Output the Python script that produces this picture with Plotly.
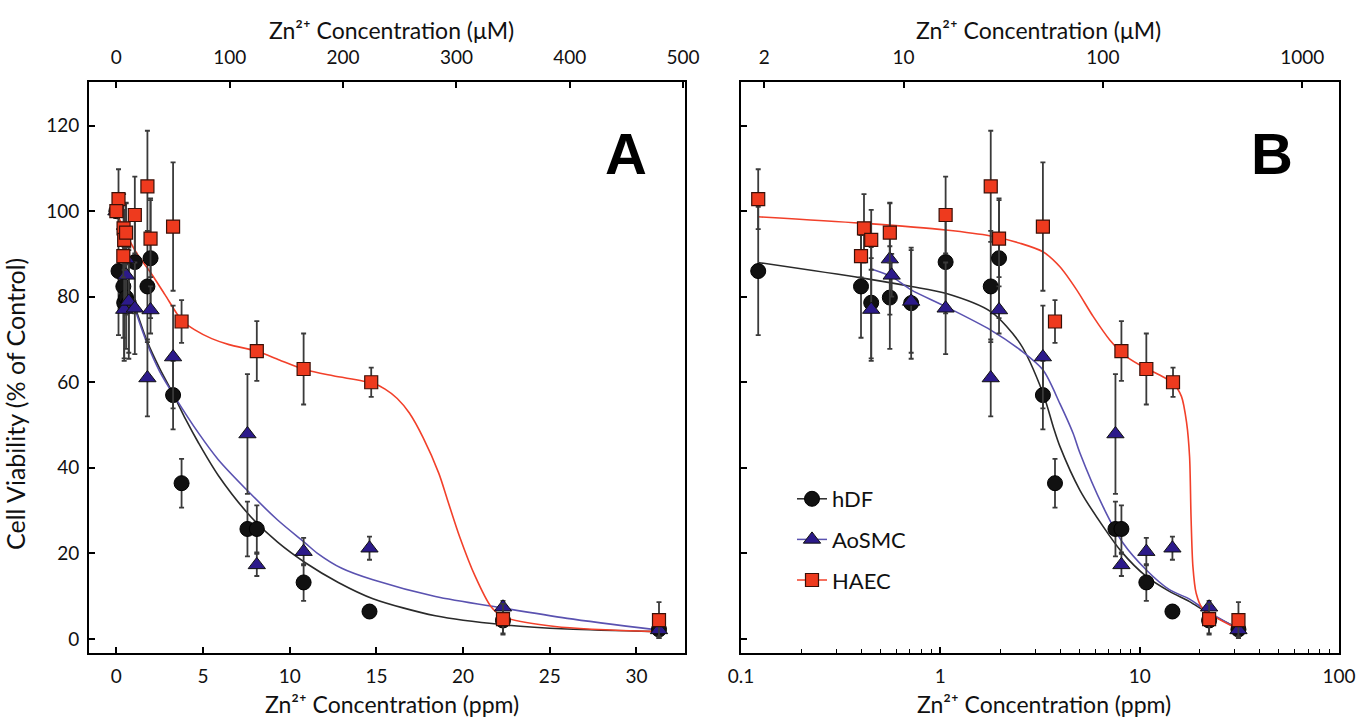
import math
import plotly.graph_objects as go

# ---------------- data ----------------
PPM_PER_UM = 0.06538  # 1 uM Zn2+ = 0.06538 ppm

conc_hdf = [0.122, 0.40, 0.45, 0.558, 0.714, 1.063, 1.79, 1.97, 3.27, 3.76, 7.56, 8.10, 10.8, 14.6, 22.3, 31.3]
via_hdf = [86.0, 82.4, 78.6, 79.8, 78.5, 88.1, 82.4, 89.0, 57.0, 36.4, 25.7, 25.7, 13.2, 6.4, 4.3, 2.2]
err_hdf = [15, 12, 13, 12, 13, 12, 13, 14, 8, 5.7, 6.4, 5.5, 4.3, 1.5, 3, 2]

conc_aosmc = [0.45, 0.558, 0.57, 0.714, 1.063, 1.79, 1.97, 3.27, 7.56, 8.10, 10.8, 14.6, 22.3, 31.3]
via_aosmc = [77.0, 88.8, 85.0, 78.9, 77.3, 61.0, 76.9, 65.9, 47.9, 17.3, 20.4, 21.2, 7.4, 2.1]
err_aosmc = [12, 13, 5, 12, 10.7, 9, 5.5, 12, 14, 2.6, 3.2, 2.7, 1.5, 1.5]

conc_haec = [0.122, 0.40, 0.414, 0.45, 0.558, 1.063, 1.79, 1.97, 3.27, 3.76, 8.10, 10.8, 14.7, 22.3, 31.3]
via_haec = [102.8, 89.5, 96.0, 93.3, 95.0, 99.1, 105.8, 93.6, 96.4, 74.2, 67.3, 63.1, 60.0, 4.6, 4.4]
err_haec = [7, 5, 8, 7, 7, 9, 13, 9, 15, 5, 7, 8.3, 3.4, 3.6, 4.2]

# untreated control (only visible on the linear panel A)
control_conc = [0.0]
control_hdf = [100.0]
control_aosmc = [100.0]
control_haec = [100.0]

# fitted curves, panel A (linear x)
fitA_hdf_x = [0.12, 0.5, 1.0, 1.78, 2.5, 3.26, 4.0, 4.74, 5.88, 7.7, 9.3, 10.9, 12.8, 14.8, 18.4, 22.3, 26.0, 31.2]
fitA_hdf_y = [88.0, 84.5, 78.5, 69.5, 63.2, 57.4, 51.3, 45.8, 38.2, 28.8, 22.6, 17.8, 13.2, 9.4, 5.4, 3.3, 2.3, 1.7]
fitA_aosmc_x = [0.45, 1.0, 1.78, 2.5, 3.37, 4.74, 5.88, 7.7, 9.3, 10.9, 11.6, 13.0, 14.8, 18.4, 22.3, 26.0, 31.2]
fitA_aosmc_y = [85.5, 78.0, 69.0, 62.5, 56.6, 48.1, 41.9, 34.1, 27.8, 22.4, 20.0, 16.5, 13.8, 9.9, 7.2, 4.8, 2.1]
fitA_haec_x = [0.12, 0.4, 0.78, 1.2, 2.0, 2.8, 3.77, 4.5, 5.5, 6.5, 8.16, 9.4, 10.9, 12.5, 14.77, 15.5, 16.2, 16.9,
               17.7, 18.6, 19.1, 19.8, 20.7, 21.6, 22.3, 25.3, 31.2]
fitA_haec_y = [98.5, 96.5, 93.0, 90.0, 85.5, 80.5, 74.5, 72.3, 70.2, 68.8, 67.2, 65.2, 62.9, 61.5, 59.8, 58.4, 56.2,
               52.8, 47.0, 38.7, 32.5, 23.9, 14.6, 7.6, 5.2, 2.9, 1.7]

# fitted curves, panel B (log x)
fitB_hdf_x = [0.122, 0.40, 0.714, 1.063, 1.79, 2.51, 3.27, 3.69, 3.98, 5.01, 6.55, 8.10, 10.8, 14.1, 17.8, 21.6, 30.8]
fitB_hdf_y = [88.0, 84.4, 82.4, 80.8, 76.5, 69.1, 57.5, 49.5, 45.0, 34.8, 26.3, 20.4, 14.6, 11.1, 8.7, 6.3, 2.6]
fitB_aosmc_x = [0.45, 0.57, 0.714, 1.063, 1.79, 2.51, 3.27, 3.98, 4.64, 5.01, 6.55, 8.25, 10.8, 14.1, 17.8, 21.6, 30.8]
fitB_aosmc_y = [86.5, 84.7, 81.6, 77.7, 72.2, 67.6, 62.9, 55.0, 48.0, 43.5, 30.9, 22.4, 16.1, 11.5, 9.3, 6.6, 2.5]
fitB_haec_x = [0.122, 0.40, 1.063, 1.79, 2.51, 3.27, 3.98, 4.83, 5.84, 7.08, 8.58, 10.7, 12.6, 14.7, 16.2, 17.2, 17.8,
               18.1, 18.5, 19.2, 20.6, 30.5]
fitB_haec_y = [98.7, 97.2, 95.6, 94.2, 92.5, 90.5, 87.0, 81.6, 75.4, 69.9, 66.0, 63.3, 61.7, 59.8, 56.7, 50.5, 42.6,
               28.6, 16.9, 10.7, 7.2, 2.5]

series_names = ["hDF", "AoSMC", "HAEC"]
ticks_ppm_A = [0, 5, 10, 15, 20, 25, 30]
ticks_uM_A = [0, 100, 200, 300, 400, 500]
ticks_ppm_B = [0.1, 1, 10, 100]
ticks_ppm_B_minor = [0.2, 0.3, 0.4, 0.5, 0.6, 0.7, 0.8, 0.9, 2, 3, 4, 5, 6, 7, 8, 9, 20, 30, 40, 50, 60, 70, 80, 90]
ticks_uM_B = [2, 10, 100, 1000]
ticks_y = [0, 20, 40, 60, 80, 100, 120]

title_ppm = "Zn²⁺ Concentration (ppm)"
title_uM = "Zn²⁺ Concentration (μM)"
title_y = "Cell Viability (% of Control)"

# ---------------- styles ----------------
FONT = "Lato, 'Open Sans', sans-serif"
C_BLACK = "#111111"
C_BLUE = "#2c1a8a"
C_RED = "#ee3a1e"
LINE_BLACK = "#2a2a2a"
LINE_BLUE = "#5a52b0"
LINE_RED = "#f2402a"
ERR_COL = "#3a3a3a"

marker_styles = {
    "hDF": dict(symbol="circle", size=15, color=C_BLACK, line=dict(color="black", width=1)),
    "AoSMC": dict(symbol="triangle-up", size=15, color=C_BLUE, line=dict(color="#111111", width=1)),
    "HAEC": dict(symbol="square", size=13, color=C_RED, line=dict(color="#3a1008", width=1.2)),
}
line_colors = {"hDF": LINE_BLACK, "AoSMC": LINE_BLUE, "HAEC": LINE_RED}

data = {
    "hDF": (conc_hdf, via_hdf, err_hdf, control_hdf),
    "AoSMC": (conc_aosmc, via_aosmc, err_aosmc, control_aosmc),
    "HAEC": (conc_haec, via_haec, err_haec, control_haec),
}
fitsA = {"hDF": (fitA_hdf_x, fitA_hdf_y), "AoSMC": (fitA_aosmc_x, fitA_aosmc_y), "HAEC": (fitA_haec_x, fitA_haec_y)}
fitsB = {"hDF": (fitB_hdf_x, fitB_hdf_y), "AoSMC": (fitB_aosmc_x, fitB_aosmc_y), "HAEC": (fitB_haec_x, fitB_haec_y)}

fig = go.Figure()

for name in series_names:
    fx_, fy_ = fitsA[name]
    fig.add_trace(go.Scatter(x=fx_, y=fy_, mode="lines", xaxis="x", yaxis="y",
                             line=dict(color=line_colors[name], width=1.6, shape="spline", smoothing=0.8),
                             showlegend=False, hoverinfo="skip"))
    fx_, fy_ = fitsB[name]
    fig.add_trace(go.Scatter(x=fx_, y=fy_, mode="lines", xaxis="x2", yaxis="y2",
                             line=dict(color=line_colors[name], width=1.6, shape="spline", smoothing=0.8),
                             showlegend=False, hoverinfo="skip"))

for name in series_names:
    cx, vy, ee, ctrl = data[name]
    eb = dict(type="data", array=ee, color=ERR_COL, thickness=1.8, width=2.5)
    fig.add_trace(go.Scatter(x=cx, y=vy, mode="markers", xaxis="x", yaxis="y", error_y=eb,
                             marker=marker_styles[name], showlegend=False, name=name))
    fig.add_trace(go.Scatter(x=control_conc, y=ctrl, mode="markers", xaxis="x", yaxis="y",
                             marker=marker_styles[name], showlegend=False, name=name))
    fig.add_trace(go.Scatter(x=cx, y=vy, mode="markers", xaxis="x2", yaxis="y2", error_y=eb,
                             marker=marker_styles[name], showlegend=False, name=name))

for name in series_names:
    fig.add_trace(go.Scatter(x=[None], y=[None], mode="lines+markers", xaxis="x2", yaxis="y2",
                             name=name, legendgroup=name,
                             line=dict(color=line_colors[name], width=1.5),
                             marker=marker_styles[name], showlegend=True))

fig.add_trace(go.Scatter(x=[c / PPM_PER_UM for c in conc_hdf], y=via_hdf, mode="markers",
                         xaxis="x3", yaxis="y", marker=dict(opacity=0), showlegend=False, hoverinfo="skip"))
fig.add_trace(go.Scatter(x=[c / PPM_PER_UM for c in conc_hdf], y=via_hdf, mode="markers",
                         xaxis="x4", yaxis="y2", marker=dict(opacity=0), showlegend=False, hoverinfo="skip"))

# ---------------- layout (positions in screen px) ----------------
W, H = 1359, 723


def fx(px):
    return px / W


def fy(py):
    return 1 - py / H


A_left, A_right = 89, 685
B_left, B_right = 741, 1339
top, bottom = 82, 653
ydom = [fy(bottom), fy(top)]

xA_range = [-1.58, 32.8]
y_range = [-3.3, 130.2]
xB_range = [-1.0, 2.0]

tickfont = dict(family=FONT, size=19, color="#111")

common = dict(showline=True, linecolor="black", linewidth=2, ticks="inside", ticklen=6,
              tickwidth=1.5, tickcolor="black", showgrid=False, zeroline=False, tickfont=tickfont,
              automargin=False)

fig.update_layout(
    template="none",
    width=W, height=H,
    margin=dict(l=0, r=0, t=0, b=0, pad=0, autoexpand=False),
    paper_bgcolor="white", plot_bgcolor="white",
    font=dict(family=FONT, color="#111", size=19),
    xaxis=dict(domain=[fx(A_left), fx(A_right)], range=xA_range, anchor="y", mirror=True,
               tickmode="array", tickvals=ticks_ppm_A, ticklabelstandoff=5, **common),
    yaxis=dict(domain=ydom, range=y_range, anchor="x", tickmode="array", tickvals=ticks_y, mirror=True,
               ticklabelstandoff=4, **common),
    xaxis3=dict(overlaying="x", side="top", anchor="y",
                range=[xA_range[0] / PPM_PER_UM, xA_range[1] / PPM_PER_UM],
                tickmode="array", tickvals=ticks_uM_A, ticklabelstandoff=8, **common),
    xaxis2=dict(domain=[fx(B_left), fx(B_right)], type="log", range=xB_range, anchor="y2", mirror=True,
                tickmode="array", tickvals=ticks_ppm_B, ticktext=[str(v) for v in ticks_ppm_B],
                ticklabelstandoff=5,
                minor=dict(tickmode="array", tickvals=ticks_ppm_B_minor, ticks="inside", ticklen=4,
                           tickwidth=1.2, tickcolor="black", showgrid=False),
                **common),
    yaxis2=dict(domain=ydom, range=y_range, anchor="x2", tickmode="array", tickvals=ticks_y, mirror=True,
                showticklabels=False, **common),
    xaxis4=dict(overlaying="x2", side="top", anchor="y2", type="log",
                range=[math.log10(10 ** xB_range[0] / PPM_PER_UM), math.log10(10 ** xB_range[1] / PPM_PER_UM)],
                tickmode="array", tickvals=ticks_uM_B, ticktext=[str(v) for v in ticks_uM_B],
                ticklabelstandoff=8, **common),
    legend=dict(x=fx(792), y=fy(478), xanchor="left", yanchor="top",
                font=dict(family=FONT, size=22, color="#111"), bgcolor="rgba(0,0,0,0)",
                traceorder="grouped", tracegroupgap=9, itemwidth=30),
)

title_font = dict(family=FONT, size=23, color="#111")
annots = [
    dict(text=title_ppm, x=fx(392), y=fy(704), font=title_font),
    dict(text=title_ppm, x=fx(1044), y=fy(704), font=title_font),
    dict(text=title_uM, x=fx(391), y=fy(30), font=title_font),
    dict(text=title_uM, x=fx(1038), y=fy(30), font=title_font),
    dict(text=title_y, x=fx(15), y=fy(404), textangle=-90,
         font=dict(family=FONT, size=25, color="#111")),
    dict(text="<b>A</b>", x=fx(626), y=fy(153),
         font=dict(family="Arial, 'Liberation Sans', sans-serif", size=58, color="black")),
    dict(text="<b>B</b>", x=fx(1272), y=fy(153),
         font=dict(family="Arial, 'Liberation Sans', sans-serif", size=58, color="black")),
]
for a in annots:
    a.update(xref="paper", yref="paper", showarrow=False, xanchor="center", yanchor="middle")
fig.update_layout(annotations=annots)

fig.write_html("out.html", config={"displayModeBar": False},
               post_script="document.body.style.margin='0';document.body.style.overflow='hidden';")
